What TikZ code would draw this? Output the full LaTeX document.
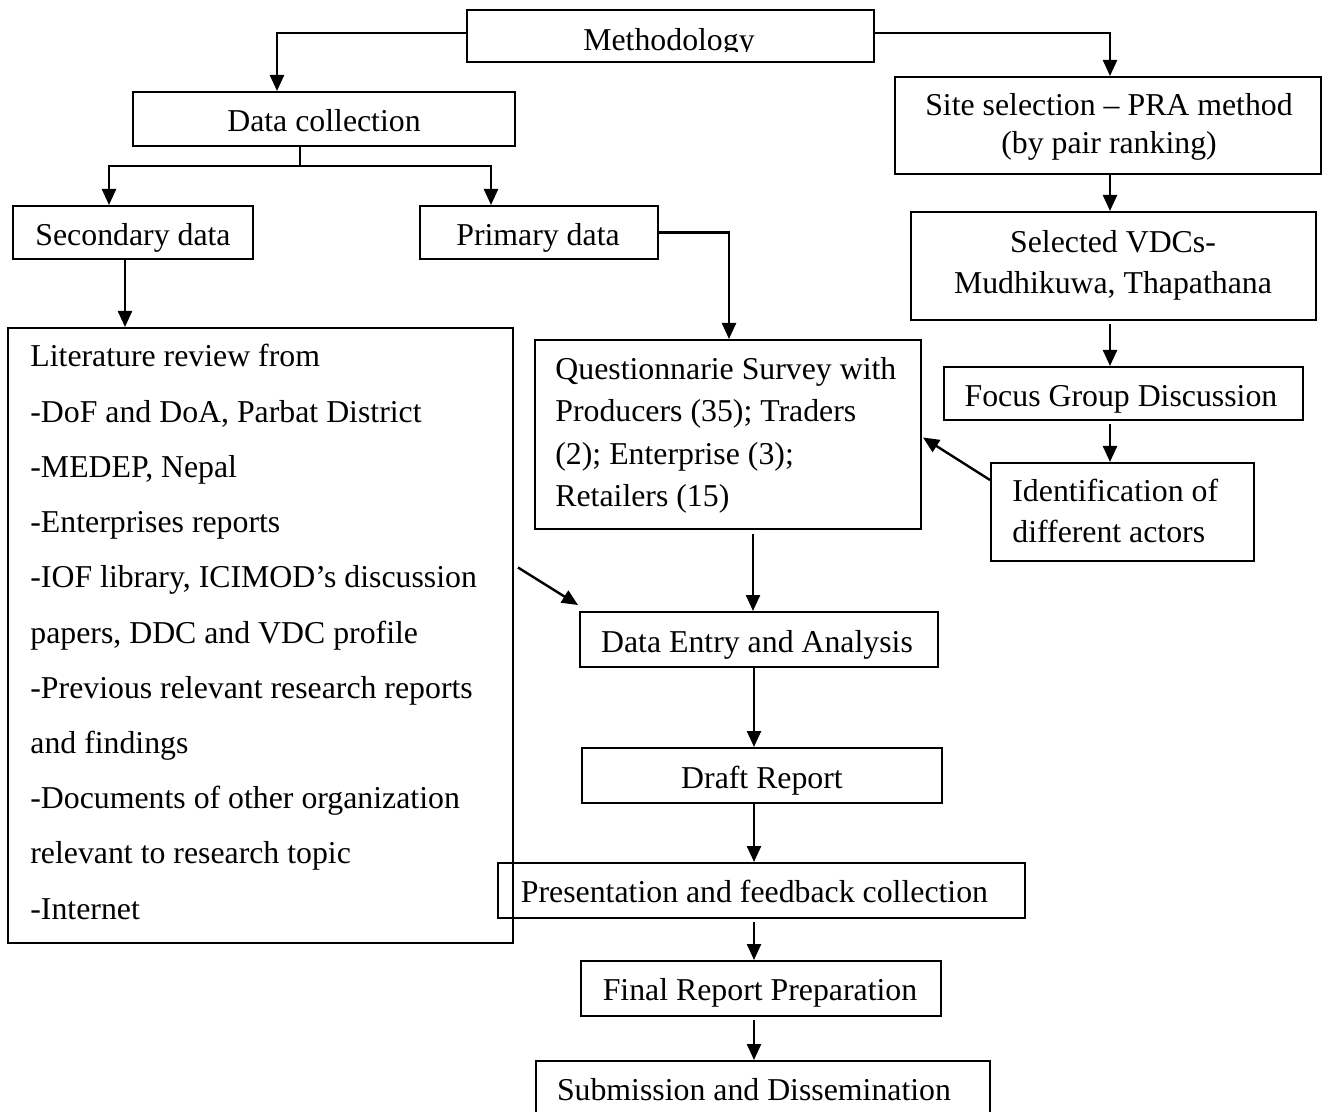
\documentclass[tikz,border=0pt]{standalone}
\usepackage{fontspec}
\setmainfont{Liberation Serif}
\usetikzlibrary{arrows.meta,calc}
\begin{document}
\begin{tikzpicture}[x=0.5pt,y=-0.5pt,
  box/.style 2 args={draw, line width=1pt, inner sep=0pt, minimum width=#1, minimum height=#2},
  txt/.style={anchor=base, inner sep=0pt, font=\fontsize{15.9}{19}\selectfont},
  txtl/.style={txt, anchor=base west},
  arr/.style={line width=1.2pt, -{Triangle[length=8pt,width=7pt]}},
  conn/.style={line width=1pt}]
\useasboundingbox (0,0) rectangle (1323,1112);
\clip (0,0) rectangle (1323,1112);
% boxes
\node[box={203.5pt}{26pt}] (meth) at (670.5,36) {};
\node[box={191pt}{27pt}] (datacol) at (324,119) {};
\node[box={120pt}{26.5pt}] (sec) at (133,232.5) {};
\node[box={119pt}{26.5pt}] (prim) at (539,232.5) {};
\node[box={213pt}{48.5pt}] (site) at (1108,125.5) {};
\node[box={202.5pt}{54pt}] (vdc) at (1113.5,266) {};
\node[box={179.5pt}{26.5pt}] (fgd) at (1123.5,393.5) {};
\node[box={131.5pt}{49pt}] (ident) at (1122.5,512) {};
\node[box={193pt}{94.5pt}] (quest) at (728,434.5) {};
\node[box={252.5pt}{307.5pt}] (lit) at (260.5,635.5) {};
\node[box={179pt}{27.5pt}] (de) at (759,639.5) {};
\node[box={180pt}{27.5pt}] (draft) at (762,775.5) {};
\node[box={263.5pt}{27.5pt}] (pres) at (761.5,890.5) {};
\node[box={180pt}{27.5pt}] (final) at (761,988.5) {};
\node[box={227pt}{34.5pt}] (sub) at (763,1095.5) {};
% texts
\begin{scope}
  \clip (467,10) rectangle (874,52);
  \node[txt] (methT) at (669,51) {Methodology};
\end{scope}
\node[txt] (datacolT) at (324,132) {Data collection};
\node[txt] (secT) at (133,246) {Secondary data};
\node[txt] (primT) at (538,246) {Primary data};
\node[txt] (siteT1) at (1109,116) {Site selection – PRA method};
\node[txt] (siteT2) at (1109,154) {(by pair ranking)};
\node[txt] (vdcT1) at (1113,253) {Selected VDCs-};
\node[txt] (vdcT2) at (1113,294) {Mudhikuwa, Thapathana};
\node[txt] (fgdT) at (1121,407) {Focus Group Discussion};
\node[txtl] (identT1) at (1012,502) {Identification of};
\node[txtl] (identT2) at (1012,543) {different actors};
\node[txtl] (questT1) at (555,380) {Questionnarie Survey with};
\node[txtl] (questT2) at (555,422) {Producers (35); Traders};
\node[txtl] (questT3) at (555,465) {(2); Enterprise (3);};
\node[txtl] (questT4) at (555,507) {Retailers (15)};
\foreach \t [count=\i from 0] in {Literature review from,
  -DoF and DoA{,} Parbat District,
  -MEDEP{,} Nepal,
  -Enterprises reports,
  -IOF library{,} ICIMOD’s discussion,
  papers{,} DDC and VDC profile,
  -Previous relevant research reports,
  and findings,
  -Documents of other organization,
  relevant to research topic,
  -Internet}
  \node[txtl] (litT\i) at (30,367+55.2*\i) {\t};
\node[txt] (deT) at (757,652) {Data Entry and Analysis};
\node[txt] (draftT) at (762,788) {Draft Report};
\node[txt] (presT) at (754.5,902) {Presentation and feedback collection};
\node[txt] (finalT) at (760,1000) {Final Report Preparation};
\node[txt] (subT) at (754,1100) {Submission and Dissemination};
% connectors
\coordinate (colx) at (754,0);
\coordinate (dcs) at (300,166);
\coordinate (sx) at ($(sec.south)+(-8,0)$);
\coordinate (rx) at ($(site.south)+(2,0)$);
\coordinate (qx) at ($(de.north)+(-6,0)$);
\draw[arr] ($(meth.west)+(0,-3)$) -| ($(datacol.north)+(-47,0)$);
\draw[arr] ($(meth.east)+(0,-3)$) -| (rx |- site.north);
\draw[conn] (datacol.south -| dcs) -- (dcs);
\draw[arr] (dcs) -| ($(sec.north)+(-24,0)$);
\draw[arr] (dcs) -| ($(prim.north)+(-48,0)$);
\draw[arr] (sx) -- (sx |- lit.north);
\draw[arr] (prim.east) -| ($(quest.north)+(1,0)$);
\draw[arr] (rx) -- (rx |- vdc.north);
\draw[arr] ($(rx |- vdc.south)+(0,3)$) -- (rx |- fgd.north);
\draw[arr] ($(rx |- fgd.south)+(0,3)$) -- (rx |- ident.north);
\draw[arr] ($(ident.north west)+(0,18)$) -- ($(quest.east)+(1,3)$);
\draw[arr] ($(qx |- quest.south)+(0,4)$) -- (qx);
\draw[arr] ($(lit.east)+(4,-68)$) -- ($(de.north west)+(-1,-6)$);
\draw[arr] (de.south -| colx) -- (draft.north -| colx);
\draw[arr] (draft.south -| colx) -- (pres.north -| colx);
\draw[arr] ($(pres.south -| colx)+(0,3)$) -- (final.north -| colx);
\draw[arr] ($(final.south -| colx)+(0,3)$) -- (sub.north -| colx);
\end{tikzpicture}
\end{document}
